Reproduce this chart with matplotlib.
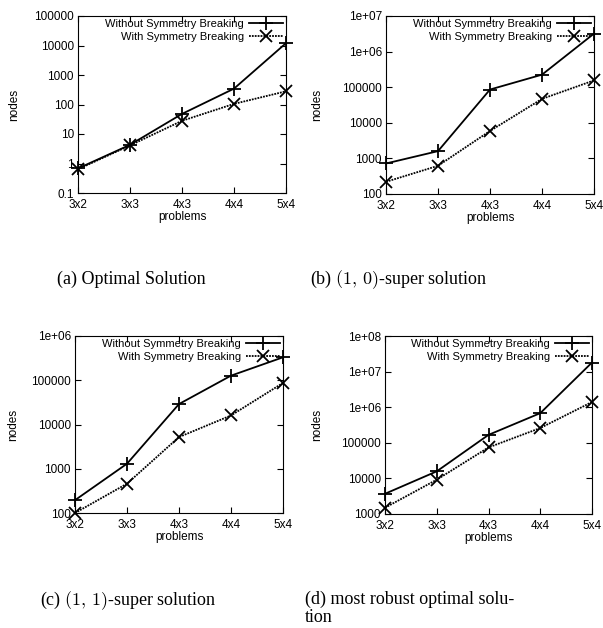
import matplotlib
matplotlib.use("Agg")
import matplotlib.pyplot as plt
from matplotlib.ticker import FuncFormatter, LogLocator, NullLocator

plt.rcParams["font.family"] = "Liberation Sans"
plt.rcParams["mathtext.fontset"] = "cm"

problems = ["3x2", "3x3", "4x3", "4x4", "5x4"]

# nodes explored
opt_without = [0.68, 4.3, 48, 345, 12000]
opt_with = [0.64, 4.1, 28, 105, 280]

s10_without = [720, 1600, 86000, 225000, 3.2e6]
s10_with = [220, 620, 5900, 47000, 155000]

s11_without = [195, 1300, 29000, 127000, 330000]
s11_with = [100, 460, 5200, 16000, 87000]

rob_without = [3700, 15800, 167000, 680000, 1.8e7]
rob_with = [1500, 9200, 74000, 260000, 1.4e6]

panels = [
    # rect in pixels (left, top, right, bottom), ylim, data, ylabel x offset
    ((78, 16, 286, 193), (0.1, 1e5), opt_without, opt_with, -0.28),
    ((386, 16, 594, 194), (100, 1e7), s10_without, s10_with, -0.30),
    ((75, 336, 283, 513), (100, 1e6), s11_without, s11_with, -0.27),
    ((385, 336, 592, 514), (1000, 1e8), rob_without, rob_with, -0.30),
]

captions = [
    (57, 284, "(a) Optimal Solution"),
    (310, 284, "(b) $(1,\\,0)$-super solution"),
    (40, 605, "(c) $(1,\\,1)$-super solution"),
    (305, 604, "(d) most robust optimal solu-"),
    (305, 622, "tion"),
]

W, H = 603, 628
fig = plt.figure(figsize=(W / 100, H / 100), dpi=100)

fmt = FuncFormatter(lambda v, p: "%g" % v)

for (l, t, r, b), ylim, y_wo, y_w, lx in panels:
    ax = fig.add_axes([l / W, 1 - b / H, (r - l) / W, (b - t) / H])
    x = range(len(problems))
    ax.plot(x, y_wo, color="black", lw=1.3, marker="+", ms=10, mew=1.3,
            clip_on=False, label="Without Symmetry Breaking")
    ax.plot(x, y_w, color="black", lw=1.3, ls=(0, (1, 0.6)), marker="x", ms=9,
            mew=1.3, clip_on=False, label="With Symmetry Breaking")
    ax.set_yscale("log")
    ax.set_ylim(*ylim)
    ax.set_xlim(0, len(problems) - 1)
    ax.set_xticks(list(x))
    ax.set_xticklabels(problems)
    ax.yaxis.set_major_locator(LogLocator(base=10, numticks=20))
    ax.yaxis.set_minor_locator(NullLocator())
    ax.yaxis.set_major_formatter(fmt)
    ax.tick_params(direction="in", length=4, width=0.8, labelsize=8.5,
                   top=True, right=True, pad=3)
    ax.tick_params(axis="x", pad=4)
    for sp in ax.spines.values():
        sp.set_linewidth(0.8)
    ax.set_xlabel("problems", fontsize=8.5)
    ax.set_ylabel("nodes", fontsize=8.5)
    ax.xaxis.set_label_coords(0.5, -0.1)
    ax.yaxis.set_label_coords(lx, 0.5)
    ax.legend(loc="upper right", frameon=False, fontsize=8, markerfirst=False,
              handlelength=3.0, handletextpad=0.5, labelspacing=0.2,
              borderaxespad=0.2, borderpad=0.1)

for cx, cy, txt in captions:
    fig.text(cx / W, 1 - cy / H, txt, fontsize=13, family="Liberation Serif",
             ha="left", va="baseline")

fig.savefig("out.png", dpi=100)
